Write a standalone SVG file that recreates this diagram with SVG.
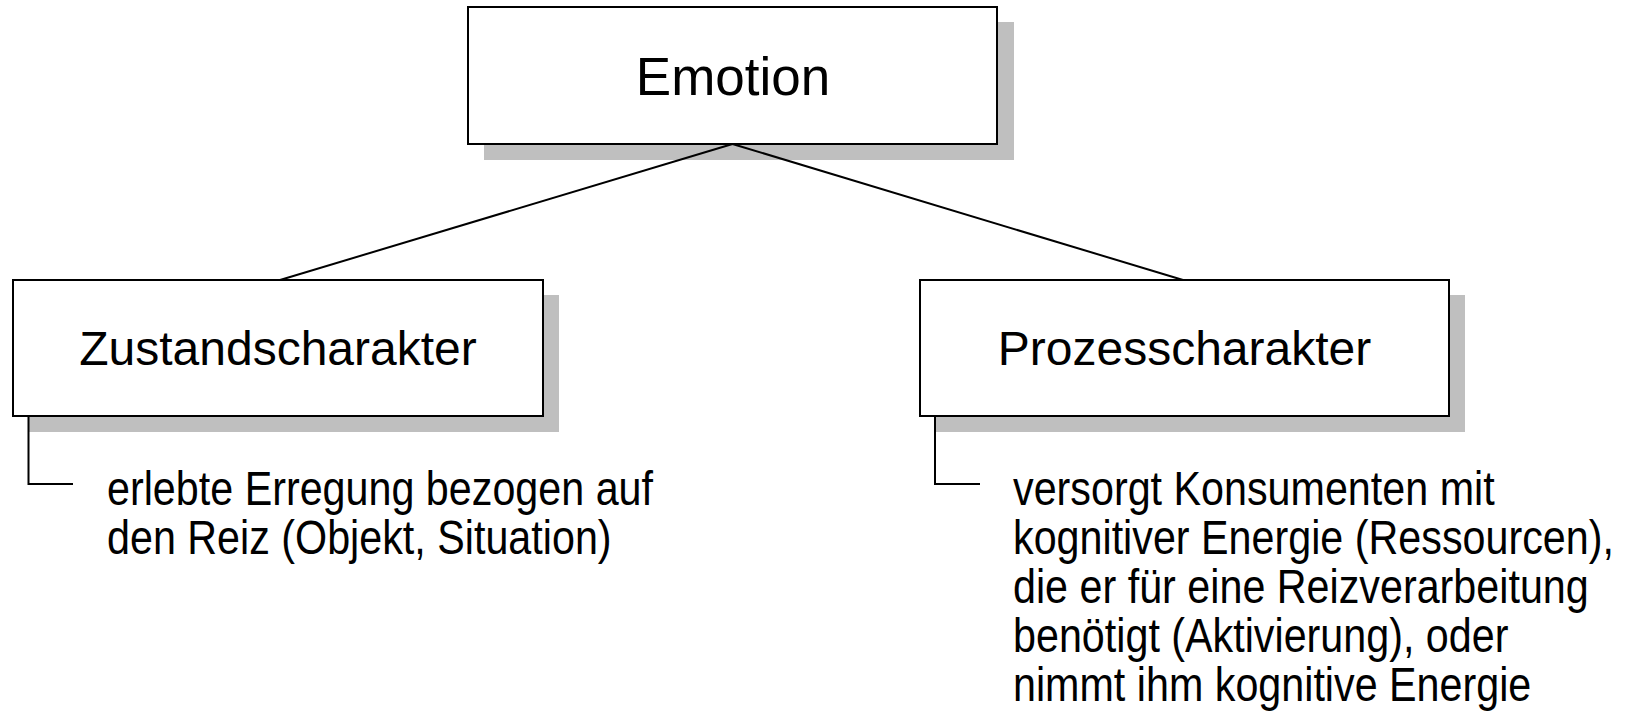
<svg xmlns="http://www.w3.org/2000/svg" width="1649" height="716" viewBox="0 0 1649 716">
  <style>
    .shadow { fill: #bfbfbf; }
    .box { fill: #ffffff; stroke: #000000; stroke-width: 2; }
    .link { fill: none; stroke: #000000; stroke-width: 2; }
    .title { font-family: "Liberation Sans", Arial, sans-serif; font-size: 53px; fill: #000000; text-anchor: middle; }
    .label { font-family: "Liberation Sans", Arial, sans-serif; font-size: 48px; fill: #000000; text-anchor: middle; }
    .desc { font-family: "Liberation Sans", Arial, sans-serif; font-size: 48px; fill: #000000; }
  </style>
  <rect width="1649" height="716" fill="#ffffff"/>

  <g id="emotion">
    <rect class="shadow" x="484" y="22" width="530" height="138"/>
    <rect class="box" x="468" y="7" width="529" height="137"/>
    <text class="title" x="733" y="95">Emotion</text>
  </g>

  <g id="zustand">
    <rect class="shadow" x="29" y="295" width="530" height="137"/>
    <rect class="box" x="13" y="280" width="530" height="136"/>
    <text class="label" x="278" y="365">Zustandscharakter</text>
  </g>

  <g id="prozess">
    <rect class="shadow" x="936" y="295" width="529" height="137"/>
    <rect class="box" x="920" y="280" width="529" height="136"/>
    <text class="label" x="1184.5" y="365">Prozesscharakter</text>
  </g>

  <!-- connectors: drawn over the root's shadow, meeting at its bottom centre -->
  <g id="connectors">
    <line class="link" x1="732.5" y1="144" x2="280" y2="280"/>
    <line class="link" x1="732.5" y1="144" x2="1183" y2="280"/>
    <polyline class="link" points="28.5,416 28.5,484 73,484"/>
    <polyline class="link" points="935,416 935,484 980,484"/>
  </g>

  <!-- notes use a narrowed face: regular glyphs squeezed horizontally -->
  <g id="zustand-note" transform="translate(107,0) scale(0.86,1)">
    <text class="desc" x="0" y="505">erlebte Erregung bezogen auf</text>
    <text class="desc" x="0" y="554">den Reiz (Objekt, Situation)</text>
  </g>

  <g id="prozess-note" transform="translate(1013,0) scale(0.86,1)">
    <text class="desc" x="0" y="505">versorgt Konsumenten mit</text>
    <text class="desc" x="0" y="554">kognitiver Energie (Ressourcen),</text>
    <text class="desc" x="0" y="603">die er für eine Reizverarbeitung</text>
    <text class="desc" x="0" y="652">benötigt (Aktivierung), oder</text>
    <text class="desc" x="0" y="701">nimmt ihm kognitive Energie</text>
  </g>
</svg>
